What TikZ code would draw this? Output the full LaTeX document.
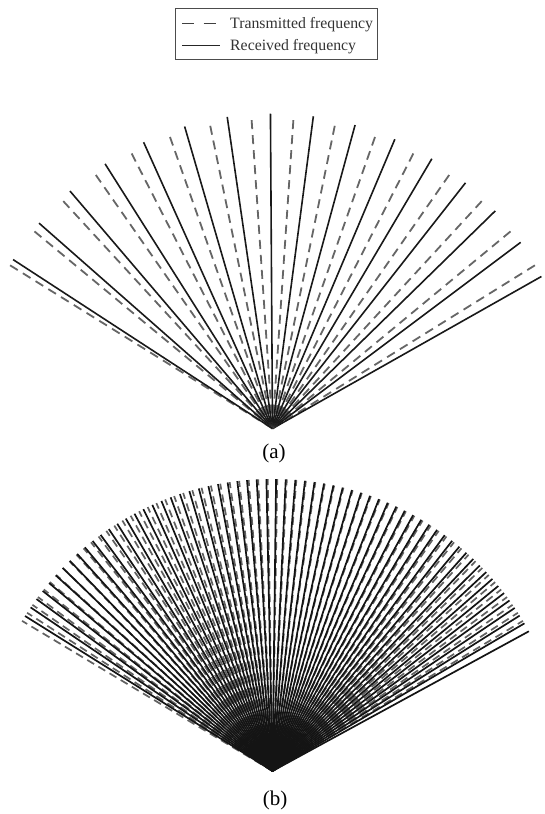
\documentclass[tikz,border=0pt]{standalone}
\usepackage{fontspec}
\setmainfont{Liberation Serif}
\begin{document}
\begin{tikzpicture}[x=1pt,y=1pt,
  rxline/.style={line width=1.6pt, draw=black!90},
  txline/.style={line width=1.8pt, draw=black!60, dash pattern=on 9pt off 6pt},
  rxlineb/.style={line width=1.7pt, draw=black!92},
  txlineb/.style={line width=1.7pt, draw=black!62, dash pattern=on 8pt off 5pt},
  legtext/.style={anchor=base west, inner sep=0pt, text=black!80, font=\fontsize{15.8}{18}\selectfont},
  caption/.style={inner sep=0pt, font=\fontsize{21}{24}\selectfont}
]
\useasboundingbox (0,0) rectangle (545,814);
% legend
\draw[line width=1pt, draw=black!70] (175,805) rectangle (377,754.5);
\coordinate (l1a) at (182,790.7);
\coordinate (l1b) at (216,790.7);
\coordinate (l2a) at (182,768.7);
\coordinate (l2b) at (220,768.7);
\draw[line width=1.3pt, draw=black!75, dash pattern=on 12pt off 9.5pt] (l1a) -- (l1b);
\draw[line width=1.3pt, draw=black!85] (l2a) -- (l2b);
\node[legtext] (t1) at (230,785) {Transmitted frequency};
\node[legtext] (t2) at (230,763) {Received frequency};
% fan (a)
\coordinate (A) at (272.5,385.5);
\foreach \k in {0,...,15}{
  \pgfmathsetmacro\td{31.875+7.75*\k}
  \pgfmathsetmacro\ts{\td-(3.6-0.00052*(\td-80)^2)}
  \pgfmathsetmacro\rd{303+12*sin(\td)}
  \pgfmathsetmacro\rs{303+12*sin(\ts)}
  \draw[txline] (A) -- ++(\td:\rd);
  \draw[rxline] (A) -- ++(\ts:\rs);
}
\node[caption] (capa) at (274,361) {(a)};
% fan (b)
\coordinate (B) at (272.5,43);
\foreach \k in {0,...,63}{
  \pgfmathsetmacro\td{30.9375+1.875*\k}
  \draw[txlineb] (B) -- ++(\td:292);
}
\foreach \k in {0,...,63}{
  \pgfmathsetmacro\td{30.9375+1.875*\k}
  \pgfmathsetmacro\ts{\td-(3.6-0.00052*(\td-80)^2)}
  \draw[rxlineb] (B) -- ++(\ts:292);
}
\node[caption] (capb) at (275,14) {(b)};
\end{tikzpicture}
\end{document}
